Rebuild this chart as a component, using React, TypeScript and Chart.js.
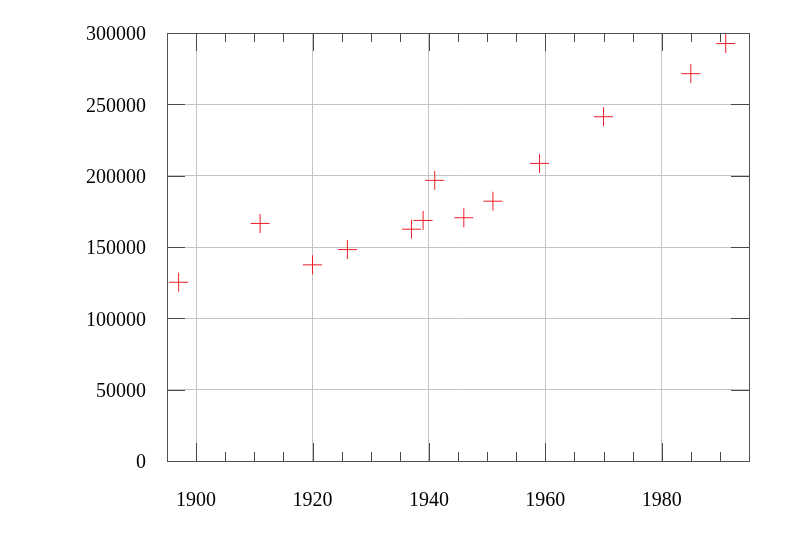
import React, { useEffect, useRef } from "react";
import { Chart, registerables } from "chart.js";

Chart.register(...registerables);

// ---- data ----
const years = [1897, 1911, 1920, 1926, 1937, 1939, 1941, 1946, 1951, 1959, 1970, 1985, 1991];
const population = [125300, 166500, 137500, 148200, 162500, 168600, 196700, 170500, 182100, 208600, 241300, 271500, 292600];

const xMajorTicks = [1900, 1920, 1940, 1960, 1980];
const xMinorTicks = [1905, 1910, 1915, 1925, 1930, 1935, 1945, 1950, 1955, 1965, 1970, 1975, 1985, 1990];
const yMajorTicks = [0, 50000, 100000, 150000, 200000, 250000, 300000];

const X_MIN = 1895;
const X_MAX = 1995;
const Y_MIN = 0;
const Y_MAX = 300000;

const FONT = "'Liberation Serif', 'Times New Roman', serif";

const tickPlugin = {
  id: "gnuplotTicks",
  beforeDatasetsDraw(chart: any) {
    const { ctx, chartArea, scales } = chart;
    const { left, right, top, bottom } = chartArea;
    const xs = scales.x;
    const ys = scales.y;
    const major = 18;
    const minor = 9;
    ctx.save();
    ctx.strokeStyle = "#4a4a4a";
    ctx.lineWidth = 1;
    ctx.beginPath();
    const vline = (v: number, len: number) => {
      const px = Math.round(xs.getPixelForValue(v)) + 0.5;
      ctx.moveTo(px, bottom);
      ctx.lineTo(px, bottom - len);
      ctx.moveTo(px, top);
      ctx.lineTo(px, top + len);
    };
    xMajorTicks.forEach((v) => vline(v, major));
    xMinorTicks.forEach((v) => vline(v, minor));
    yMajorTicks.forEach((v) => {
      const py = Math.round(ys.getPixelForValue(v)) + 0.5;
      ctx.moveTo(left, py);
      ctx.lineTo(left + major, py);
      ctx.moveTo(right, py);
      ctx.lineTo(right - major, py);
    });
    ctx.stroke();
    // frame
    ctx.strokeStyle = "#505050";
    ctx.strokeRect(Math.round(left) + 0.5, Math.round(top) + 0.5, Math.round(right - left), Math.round(bottom - top));
    ctx.restore();
  },
};

export default function App() {
  const ref = useRef<HTMLCanvasElement | null>(null);

  useEffect(() => {
    if (!ref.current) return;
    const points = years.map((y, i) => ({ x: y, y: population[i] }));
    const chart = new Chart(ref.current, {
      type: "scatter",
      data: {
        datasets: [
          {
            data: points,
            pointStyle: "cross",
            pointRadius: 9.5,
            pointHoverRadius: 9.5,
            pointBorderColor: "rgb(235,30,40)",
            pointBackgroundColor: "rgb(235,30,40)",
            pointBorderWidth: 1,
            showLine: false,
          },
        ],
      },
      options: {
        animation: false,
        responsive: false,
        devicePixelRatio: 1,
        layout: { padding: { left: 0, right: 51, top: 33, bottom: 0 } },
        plugins: { legend: { display: false }, tooltip: { enabled: false } },
        scales: {
          x: {
            type: "linear",
            min: X_MIN,
            max: X_MAX,
            afterBuildTicks: (scale: any) => {
              scale.ticks = xMajorTicks.map((v) => ({ value: v }));
            },
            afterFit: (scale: any) => {
              scale.height = 72;
            },
            grid: { color: "#c4c4c4", lineWidth: 1, drawTicks: false },
            border: { display: true, color: "#505050", width: 1 },
            ticks: {
              color: "#000",
              font: { family: FONT, size: 20 },
              padding: 28,
              maxRotation: 0,
              autoSkip: false,
              callback: (v: any) => String(v),
            },
          },
          y: {
            type: "linear",
            min: Y_MIN,
            max: Y_MAX,
            afterBuildTicks: (scale: any) => {
              scale.ticks = yMajorTicks.map((v) => ({ value: v }));
            },
            afterFit: (scale: any) => {
              scale.width = 167;
            },
            grid: { color: "#c4c4c4", lineWidth: 1, drawTicks: false },
            border: { display: true, color: "#505050", width: 1 },
            ticks: {
              color: "#000",
              font: { family: FONT, size: 20 },
              padding: 21,
              labelOffset: 2,
              autoSkip: false,
              callback: (v: any) => String(v),
            },
          },
        },
      },
      plugins: [tickPlugin],
    });
    return () => chart.destroy();
  }, []);

  return (
    <div style={{ position: "fixed", left: 0, top: 0, width: 800, height: 533, background: "#fff" }}>
      <canvas ref={ref} width={800} height={533} style={{ width: 800, height: 533, display: "block" }} />
    </div>
  );
}
